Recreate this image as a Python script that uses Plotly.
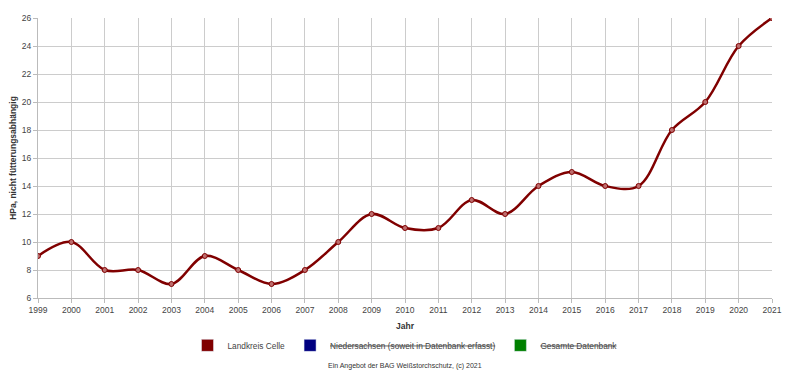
import plotly.graph_objects as go

years = list(range(1999, 2022))
values = [9, 10, 8, 8, 7, 9, 8, 7, 8, 10, 12, 11, 11, 13, 12, 14, 15, 14, 14, 18, 20, 24, 26]
series_names = ["Landkreis Celle", "<s>Niedersachsen (soweit in Datenbank erfasst)</s>", "<s>Gesamte Datenbank</s>"]
series_colors = ["#800000", "#000080", "#008000"]

fig = go.Figure()
fig.add_trace(go.Scatter(
    x=years, y=values, mode="lines+markers",
    line=dict(shape="spline", smoothing=1.0, color=series_colors[0], width=2.5),
    marker=dict(symbol="circle", size=5, color="rgba(190,110,110,1)",
                line=dict(color=series_colors[0], width=1)),
    showlegend=False,
))
for name, col in zip(series_names, series_colors):
    fig.add_trace(go.Bar(x=[None], y=[None], name=name, marker_color=col, showlegend=True))

font = "Liberation Sans, Arial, sans-serif"
fig.update_layout(
    width=800, height=389,
    margin=dict(l=30, r=36, t=10, b=99, autoexpand=False),
    plot_bgcolor="white", paper_bgcolor="white",
    font=dict(family=font, size=9, color="#444"),
    xaxis=dict(
        range=[1999, 2021], tickmode="array", tickvals=years,
        ticktext=[str(y) for y in years], automargin=False,
        showgrid=True, gridcolor="#cccccc", gridwidth=1,
        showline=True, linecolor="#bbbbbb", ticks="outside", ticklen=4, tickcolor="#bbbbbb",
        tickfont=dict(size=8.5, color="#444"),
        title=dict(text="<b>Jahr</b>", font=dict(size=8.5, color="#333"), standoff=8),
        zeroline=False,
    ),
    yaxis=dict(
        range=[6, 26], tickmode="array", tickvals=list(range(6, 27, 2)), automargin=False,
        showgrid=True, gridcolor="#cccccc", gridwidth=1,
        showline=True, linecolor="#bbbbbb", ticks="outside", ticklen=4, tickcolor="#bbbbbb",
        tickfont=dict(size=8.5, color="#444"),
        title=dict(text="<b>HPa, nicht fütterungsabhängig</b>", font=dict(size=8.5, color="#333"), standoff=4),
        zeroline=False,
    ),
    legend=dict(orientation="h", x=0.5, xanchor="center", yref="container", y=0.170, yanchor="top",
                font=dict(size=8.3, color="#444"), traceorder="normal"),
    annotations=[dict(text="Ein Angebot der BAG Weißstorchschutz, (c) 2021",
                      x=0.5, y=-0.243, xref="paper", yref="paper", yanchor="middle",
                      xanchor="center", showarrow=False, font=dict(size=7, color="#333"))],
)
fig.write_html("out.html")
